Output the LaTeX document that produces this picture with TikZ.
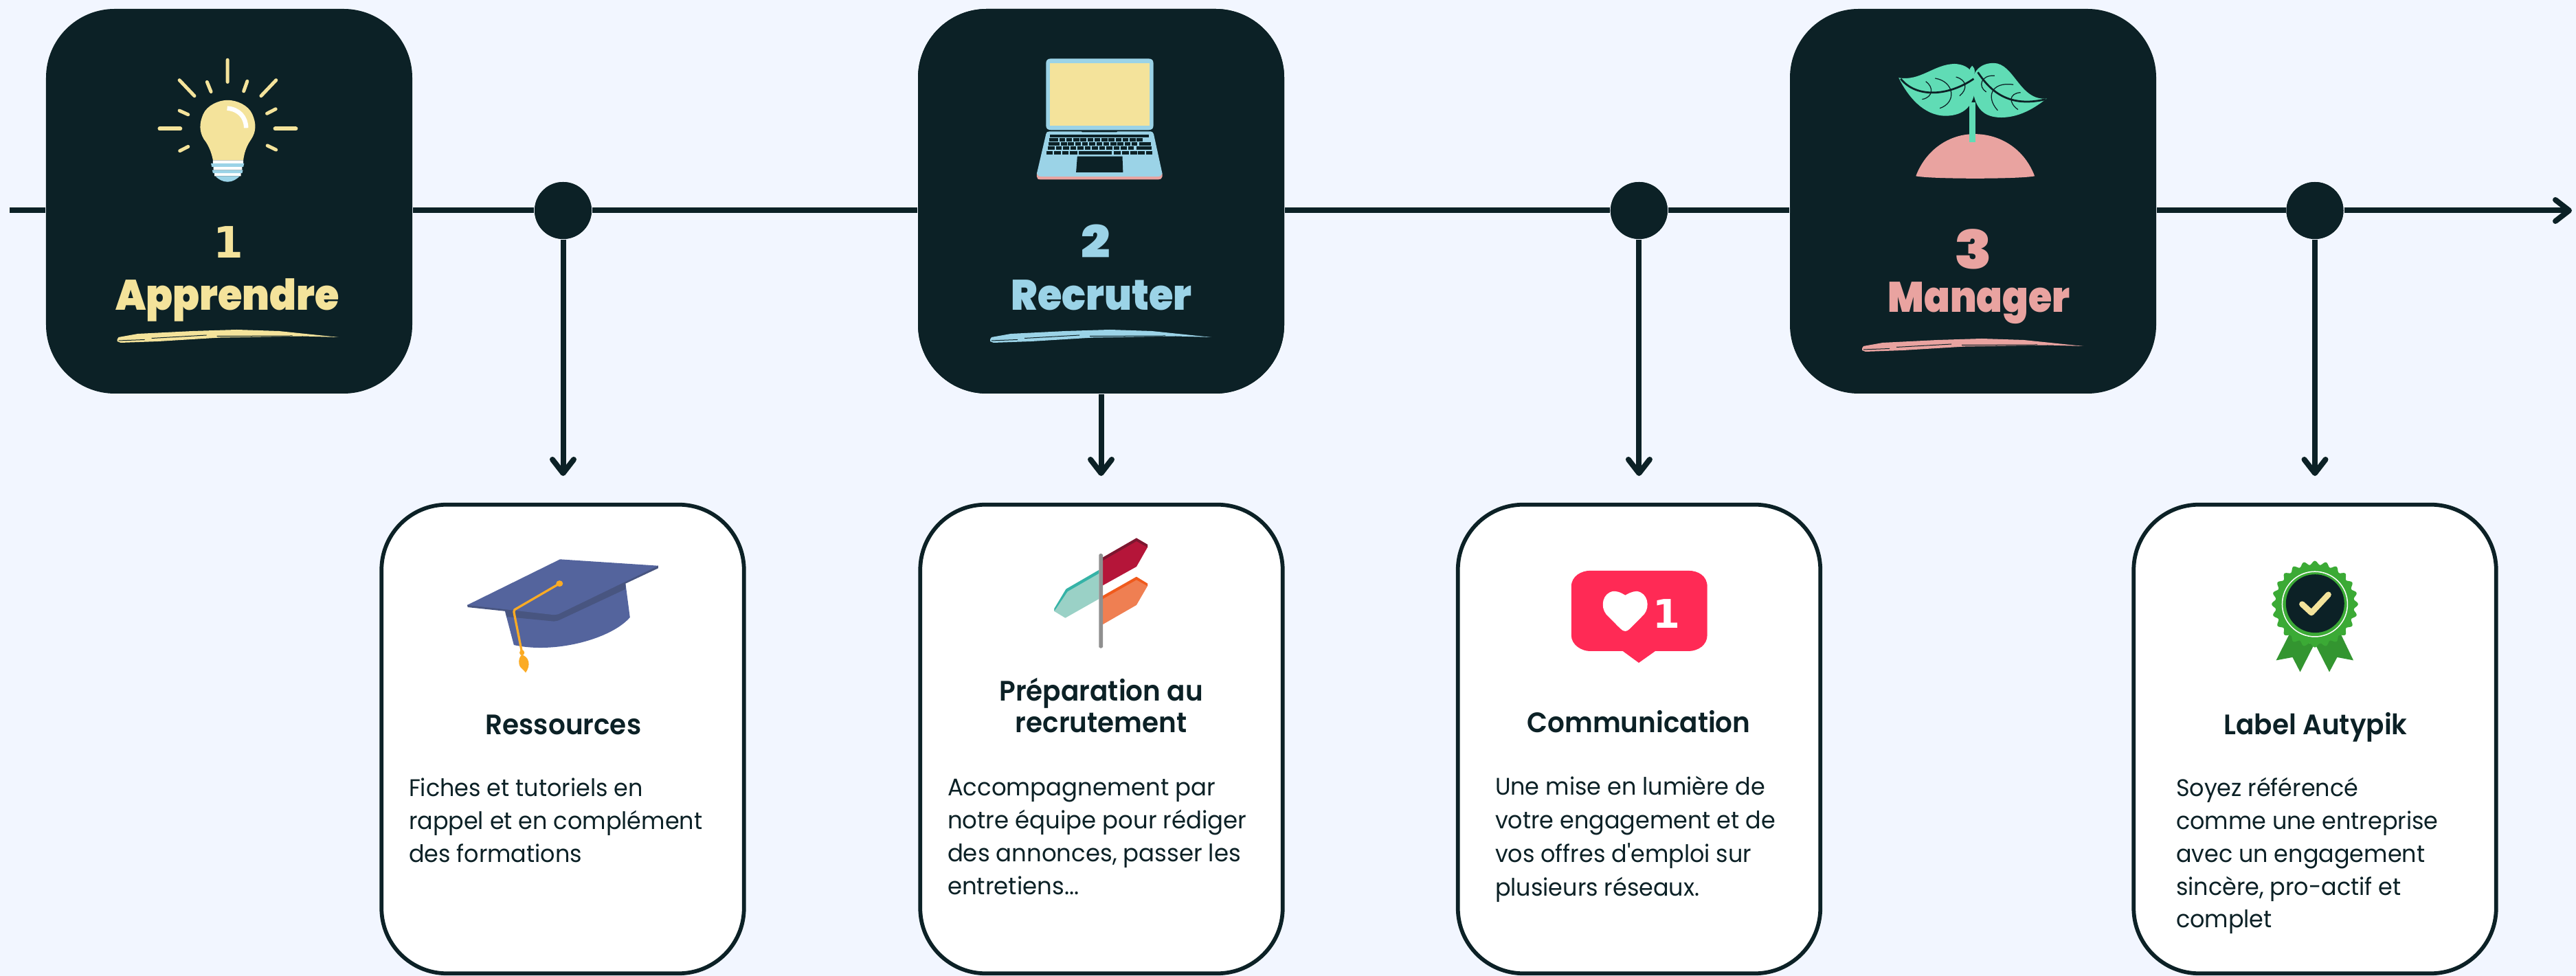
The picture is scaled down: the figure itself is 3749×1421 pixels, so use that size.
\documentclass[tikz,border=0pt]{standalone}
\usepackage{fontspec}
\usetikzlibrary{arrows.meta}
\setmainfont{Poppins}
\newfontfamily\heavy[UprightFont=* Black,BoldFont=* Black,FakeStretch=.925]{Poppins}
\newfontfamily\heavym[UprightFont=* Black,BoldFont=* Black,FakeStretch=.895]{Poppins}
\newfontfamily\heavyd[UprightFont=* Black,BoldFont=* Black,FakeStretch=1.15]{Poppins}
\newfontfamily\onef[UprightFont=* Bold,BoldFont=* Bold]{DejaVu Sans}
\newfontfamily\titlef[UprightFont=* SemiBold,BoldFont=* SemiBold,FakeStretch=.95]{Poppins}
\newfontfamily\bodyf[FakeStretch=.955]{Poppins}
\newfontfamily\bodyg[FakeStretch=.97]{Poppins}
\definecolor{bgc}{HTML}{F2F6FF}
\definecolor{dark}{HTML}{0C2126}
\definecolor{yel}{HTML}{F4E39B}
\definecolor{sky}{HTML}{9BD3E7}
\definecolor{pinkc}{HTML}{E9A3A0}
\definecolor{leaf}{HTML}{60DCB5}
\definecolor{hat}{HTML}{54649D}
\definecolor{hatd}{HTML}{485580}
\definecolor{tass}{HTML}{FBAB24}
\definecolor{like}{HTML}{FF2A55}
\definecolor{med}{HTML}{3BAA35}
\definecolor{medd}{HTML}{339530}
\definecolor{signr}{HTML}{B51539}
\definecolor{signrd}{HTML}{7C1730}
\definecolor{signo}{HTML}{EF7F52}
\definecolor{signod}{HTML}{F05A1C}
\definecolor{signt}{HTML}{9AD1C6}
\definecolor{signtd}{HTML}{35B3A7}
\definecolor{pole}{HTML}{8F8F8F}
\tikzset{
 darkbox/.style={rectangle,fill=dark,rounded corners=20pt,minimum width=106.6pt,minimum height=112pt,inner sep=0pt},
 card/.style={rectangle,draw=dark,line width=1.15pt,fill=white,rounded corners=19pt,minimum width=105.5pt,minimum height=136.5pt,inner sep=0pt},
 dot/.style={circle,fill=dark,minimum size=16.6pt,inner sep=0pt},
 conn/.style={draw=dark,line width=1.6pt},
 tip/.style={-{Straight Barb[length=4pt,width=6.2pt,round]}},
 num/.style={inner sep=0pt,anchor=base,font=\heavyd\fontsize{13}{14}\selectfont},
 head/.style={inner sep=0pt,anchor=base,font=\heavy\fontsize{12.4}{13}\selectfont},
 ctitle/.style={inner sep=0pt,anchor=north,align=center,text=dark,font=\titlef\fontsize{8.2}{9.2}\selectfont},
 cbody/.style={inner sep=0pt,anchor=north west,align=left,text=dark,font=\bodyf\fontsize{7}{9.55}\selectfont},
}
\newcommand\fl{\rule{0pt}{7pt}}
\newcommand\brushstroke[3]{%
 \begin{scope}[shift={(#1,#2)}]
 \fill[#3] (0,14) -- (2,11) -- (30,6) -- (110,2) -- (174,0) -- (235,2) -- (322,11) -- (270,9.5) -- (150,11.5) -- (60,17) -- (5,19) -- (0,17) -- cycle;
 \draw[dark,line width=.2pt] (2,16) -- (40,14.5) (50,12.5) -- (130,8) (145,9.5) -- (255,9);
 \end{scope}}
\begin{document}
\begin{tikzpicture}[x=0.2pt,y=-0.2pt]
\useasboundingbox[fill=bgc] (0,0) rectangle (3749,1421);
% nodes
\coordinate (start) at (14,306.5);
\coordinate (finish) at (3743,306.5);
\node[dot] (c1) at (819.5,306.5) {};
\node[dot] (c2) at (2385.4,306.5) {};
\node[dot] (c3) at (3369,306.5) {};
\coordinate (t1) at (819.5,693);
\coordinate (t2) at (1602.5,693);
\coordinate (t3) at (2385.4,693);
\coordinate (t4) at (3369,693);
\node[darkbox,name=b1] at (333.5,293) {};
\node[darkbox,name=b2] at (1602.5,293) {};
\node[darkbox,name=b3] at (2871.5,293) {};
\path[conn] (start) -- (b1.west|-start);
\path[conn] (b1.east|-start) -- (c1);
\path[conn] (c1) -- (b2.west|-c1);
\path[conn] (b2.east|-c1) -- (c2);
\path[conn] (c2) -- (b3.west|-c2);
\path[conn] (b3.east|-c2) -- (c3);
\path[conn,tip] (c3) -- (finish);
\path[conn,tip] (c1) -- (t1);
\path[conn,tip] (b2) -- (t2);
\path[conn,tip] (c2) -- (t3);
\path[conn,tip] (c3) -- (t4);
\node[dot] at (c1) {};\node[dot] at (c2) {};\node[dot] at (c3) {};
\node[darkbox] at (b2) {};
\node[card,name=k1] at (819,1076) {};
\node[card,name=k2] at (1603,1076) {};
\node[card,name=k3] at (2385.5,1076) {};
\node[card,name=k4] at (3369,1076) {};
% bulb
\begin{scope}[xscale=.57398,yscale=.38265]
\fill[yel] (540,610) .. controls (535,570) and (525,545) .. (517,530) .. controls (505,500) and (505,470) .. (515,435) .. controls (525,400) and (555,381) .. (577,381) .. controls (600,381) and (630,400) .. (640,435) .. controls (650,470) and (650,500) .. (637,530) .. controls (630,545) and (620,570) .. (617,610) -- cycle;
\draw[white,line width=1.3pt] (576,412) .. controls (605,415) and (624,445) .. (624,487);
\fill[white] (540,610) rectangle (617,622) (541,635) rectangle (614,647) (544,659) rectangle (611,670);
\fill[sky] (535,622) -- (619,622) -- (617,635) -- (537,635) -- cycle (538,647) -- (616,647) -- (614,659) -- (540,659) -- cycle;
\fill[sky] (546,670) -- (608,670) .. controls (600,682) and (590,692) .. (577,692) .. controls (565,692) and (553,682) .. (546,670) -- cycle;
\draw[yel,line width=1pt,line cap=round] (577,228) -- (577,312) (455,305) -- (493,365) (525,312) -- (535,349) (700,305) -- (662,365) (627,309) -- (618,347) (455,421) -- (477,436) (699,415) -- (677,432) (477,558) -- (456,574) (678,554) -- (700,570);
\draw[yel,line width=1.2pt,line cap=round] (405,490) -- (457,490) (698,490) -- (750,490);
\end{scope}
% laptop
\begin{scope}[shift={(1300,0)},xscale=.44643,yscale=.38265]
\fill[sky] (498,240) .. controls (498,228) and (505,223) .. (515,223) -- (830,223) .. controls (842,223) and (848,228) .. (848,240) -- (848,478) .. controls (848,490) and (842,495) .. (830,495) -- (515,495) .. controls (505,495) and (498,490) .. (498,478) -- cycle;
\fill[yel] (510,241) rectangle (835,478);
\fill[pinkc] (468,660) -- (877,660) -- (877,672) .. controls (877,680) and (870,683) .. (865,683) -- (480,683) .. controls (472,683) and (468,680) .. (468,672) -- cycle;
\fill[sky] (498,510) .. controls (498,503) and (503,500) .. (510,500) -- (835,500) .. controls (843,500) and (848,503) .. (849,510) -- (877,660) .. controls (875,668) and (870,672) .. (860,672) -- (485,672) .. controls (475,672) and (470,668) .. (468,660) -- cycle;
\fill[dark] (612,497) -- (732,497) -- (728,503) -- (616,503) -- cycle;
\fill[dark] (511,513) rectangle (834,522);
\fill[dark] (600,595) -- (747,595) -- (749,656) -- (596,656) -- cycle;
\fill[dark] (508,526) rectangle (537,539);
\foreach \i in {0,...,11}{\fill[dark] ({541+\i*23},526) rectangle ({560+\i*23},539);}
\fill[dark] (506,542) rectangle (543,555);
\foreach \i in {0,...,10}{\fill[dark] ({547+\i*23},542) rectangle ({566+\i*23},555);}
\fill[dark] (801,542) rectangle (840,555);
\fill[dark] (503,558) rectangle (526,571);
\foreach \i in {0,...,10}{\fill[dark] ({530+\i*23.5},558) rectangle ({549+\i*23.5},571);}
\fill[dark] (793,558) rectangle (843,571);
\foreach \a/\b in {500/520,524/546,550/572,576/600,605/713,718/741,745/768,772/795,798/820,824/845}{\fill[dark] (\a,574) rectangle (\b,589);}
\end{scope}
% sprout
\begin{scope}[shift={(2560,0)},xscale=.75829,yscale=.38265]
\fill[pinkc] (301,670) .. controls (320,570) and (365,510) .. (413,510) .. controls (465,510) and (510,570) .. (529,670) .. controls (500,682) and (330,682) .. (301,670) -- cycle;
\fill[leaf] (404,390) rectangle (415,540);
\fill[leaf] (409,250) .. controls (402,260) and (403,285) .. (409,300) .. controls (415,285) and (416,260) .. (409,250) -- cycle;
\fill[leaf] (268,296) .. controls (310,310) and (335,245) .. (375,243) .. controls (410,245) and (418,300) .. (415,335) .. controls (412,400) and (395,440) .. (358,441) .. controls (315,440) and (285,365) .. (268,296) -- cycle;
\fill[leaf] (552,375) .. controls (500,385) and (490,240) .. (450,240) .. controls (415,240) and (405,300) .. (410,340) .. controls (415,410) and (430,447) .. (465,447) .. controls (500,447) and (530,410) .. (552,375) -- cycle;
\draw[dark,line width=.55pt] (272,300) .. controls (300,370) and (360,370) .. (412,300);
\draw[dark,line width=.55pt] (420,275) .. controls (445,350) and (480,410) .. (550,378);
\draw[dark,line width=.25pt] (320,310) .. controls (335,330) and (335,370) .. (313,378) (338,298) .. controls (375,310) and (380,390) .. (347,412) (378,293) .. controls (400,305) and (400,340) .. (385,365) (452,288) .. controls (425,285) and (420,330) .. (436,350) (488,322) .. controls (445,310) and (435,370) .. (458,420) (502,352) .. controls (480,355) and (478,390) .. (497,417);
\end{scope}
\brushstroke{170.6}{480}{yel}
\brushstroke{1441}{480}{sky}
\brushstroke{2710}{493}{pinkc}
\node[num,text=yel,font=\onef\fontsize{12.6}{14}\selectfont] (n1) at (332,376) {1};
\node[head,text=yel] (h1) at (331,452) {Apprendre};
\node[num,text=sky] (n2) at (1594.7,376) {2};
\node[head,text=sky] (h2) at (1603,452) {Recruter};
\node[num,text=pinkc,font=\heavyd\fontsize{15.5}{16}\selectfont] (n3) at (2872,392) {3};
\node[head,text=pinkc,font=\heavym\fontsize{12.4}{13}\selectfont] (h3) at (2880,455) {Manager};
% hat
\begin{scope}[shift={(540,720)},xscale=.35714,yscale=.44707]
\fill[hat] (545,378) -- (582,490) .. controls (750,520) and (980,470) .. (1055,400) -- (1037,290) -- cycle;
\fill[hatd] (392,360) -- (394,367) -- (548,380) -- (552,398) -- (745,413) .. controls (755,413) and (765,410) .. (775,406) -- (1037,308) -- (1037,290) -- (1170,240) -- (1170,232) -- cycle;
\fill[hat] (392,360) -- (770,211) -- (1170,232) -- (775,385) .. controls (765,390) and (755,392) .. (745,392) -- cycle;
\draw[tass,line width=.65pt,line join=round] (768,290) -- (585,375) -- (582,382) -- (615,515);
\fill[tass] (768,290) ellipse [x radius=14,y radius=10];
\fill[tass] (615,515) ellipse [x radius=10,y radius=9];
\fill[tass] (615,522) .. controls (600,530) and (598,555) .. (612,565) .. controls (620,570) and (625,575) .. (630,580) .. controls (640,570) and (645,555) .. (642,545) .. controls (638,530) and (625,525) .. (615,522) -- cycle;
\end{scope}
% signpost
\begin{scope}[shift={(1320,720)},xscale=.35714,yscale=.44707]
\fill[signt] (782,246) -- (648,308) -- (600,372) -- (600,380) -- (645,402) -- (782,340) -- cycle;
\fill[signtd] (782,246) -- (648,308) -- (600,372) -- (600,380) -- (654,316) -- (782,257) -- cycle;
\fill[signr] (798,205) -- (935,142) -- (980,163) -- (980,172) -- (935,235) -- (798,296) -- cycle;
\fill[signrd] (798,205) -- (935,142) -- (980,163) -- (980,172) -- (935,152) -- (798,215) -- cycle;
\fill[signo] (798,330) -- (935,268) -- (980,290) -- (980,298) -- (935,360) -- (798,423) -- cycle;
\fill[signod] (798,330) -- (935,268) -- (980,290) -- (980,298) -- (935,278) -- (798,340) -- cycle;
\fill[pole] (782,197) .. controls (785,191) and (795,191) .. (798,197) -- (798,497) .. controls (795,502) and (785,502) .. (782,497) -- cycle;
\end{scope}
% like badge
\begin{scope}[shift={(2100,720)},xscale=.35714,yscale=.44707]
\fill[like] (523,300) .. controls (523,265) and (565,248) .. (600,248) -- (1000,248) .. controls (1040,248) and (1077,265) .. (1077,300) -- (1077,458) .. controls (1077,490) and (1040,510) .. (1000,510) -- (865,510) -- (798,548) -- (733,510) -- (600,510) .. controls (565,510) and (523,490) .. (523,458) -- cycle;
\fill[white] (743,445) .. controls (730,445) and (725,438) .. (665,390) .. controls (640,365) and (650,320) .. (695,315) .. controls (720,315) and (735,325) .. (743,328) .. controls (750,325) and (770,315) .. (790,315) .. controls (835,320) and (845,365) .. (820,390) .. controls (760,438) and (755,445) .. (743,445) -- cycle;
\end{scope}
\node[inner sep=0pt,anchor=base,text=white,font=\onef\fontsize{11.5}{13}\selectfont] (likeone) at (2425.7,914.5) {1};
% medal
\begin{scope}[shift={(3080,720)},xscale=.35714,yscale=.44707]
\fill[medd] (705,455) -- (651,540) -- (718,530) -- (749,578) -- (805,490) -- cycle;
\fill[medd] (915,455) -- (966,540) -- (900,530) -- (868,578) -- (812,490) -- cycle;
\fill[med] plot[domain=0:360,samples=240] ({809+176*(.955+.045*cos(24*\x))*cos(\x)},{357+141*(.955+.045*cos(24*\x))*sin(\x)}) -- cycle;
\draw[white,line width=.3pt] (809,357) ellipse [x radius=133,y radius=106];
\fill[dark] (810,355) ellipse [x radius=119,y radius=95];
\draw[yel,line width=1.7pt,line cap=round,line join=round] (757,357) -- (795,385) -- (864,326);
\end{scope}
% card titles
\node[ctitle] (tt1) at (820,1033.7) {\fl Ressources};
\node[ctitle] (tt2) at (1602.7,984.5) {\fl Préparation au\\recrutement};
\node[ctitle] (tt3) at (2385,1030.6) {\fl Communication};
\node[ctitle] (tt4) at (3370,1033.7) {\fl Label Autypik};
% card bodies
\node[cbody] (bd1) at (594,1124) {\fl Fiches et tutoriels en\\rappel et en complément\\des formations};
\node[cbody,font=\bodyg\fontsize{7}{9.55}\selectfont] (bd2) at (1378,1123) {\fl Accompagnement par\\notre équipe pour rédiger\\des annonces, passer les\\entretiens...};
\node[cbody,font=\bodyf\fontsize{7}{9.8}\selectfont] (bd3) at (2175,1122) {\fl Une mise en lumière de\\votre engagement et de\\vos offres d'emploi sur\\plusieurs réseaux.};
\node[cbody] (bd4) at (3166,1124) {\fl Soyez référencé\\comme une entreprise\\avec un engagement\\sincère, pro-actif et\\complet};
\end{tikzpicture}
\end{document}
